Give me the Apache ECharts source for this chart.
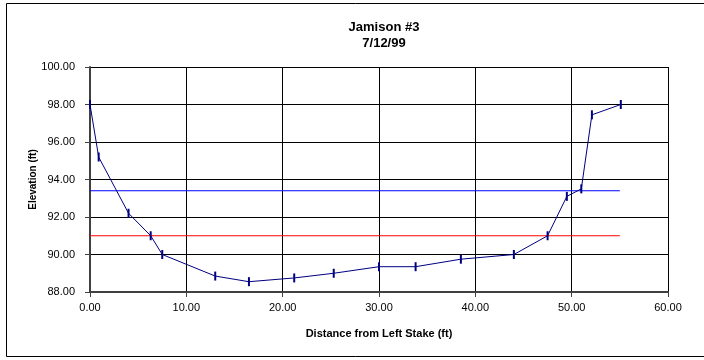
<!DOCTYPE html>
<html lang="en">
<head>
    <meta charset="UTF-8">
    <title>Jamison #3</title>
    <style>
        body { margin: 0; background: #fff; }
    </style>
</head>
<body>
    <div id="main" style="width:704px;height:360px;"></div>
</body>
<script src="https://cdn.jsdelivr.net/npm/echarts@6/dist/echarts.min.js"></script>
<script>
    var main = echarts.init(document.getElementById('main'));

    // cross section survey points
    var distance = [0, 0.9, 4.0, 6.3, 7.5, 13.0, 16.5, 21.2, 25.3, 30.0, 33.8, 38.5, 44.0, 47.5, 49.5, 51.0, 52.1, 55.1];
    var elevation = [98.0, 95.2, 92.2, 91.0, 90.0, 88.85, 88.55, 88.75, 89.0, 89.35, 89.35, 89.75, 90.0, 91.0, 93.1, 93.5, 97.45, 98.0];

    // horizontal reference levels
    var levelX = [0, 55];
    var upperLevel = [93.4, 93.4];
    var lowerLevel = [91.0, 91.0];

    function pairs(xs, ys) {
        return xs.map(function (x, i) { return [x, ys[i]]; });
    }

    var font = 'Liberation Sans, Arial, sans-serif';

    var option = {
        backgroundColor: '#fff',
        animation: false,
        title: {
            text: 'Jamison #3\n7/12/99',
            left: 379,
            top: 14,
            textAlign: 'center',
            textStyle: {
                fontFamily: font,
                fontSize: 13,
                fontWeight: 'bold',
                color: '#000',
                lineHeight: 16
            }
        },
        graphic: [{
            type: 'rect',
            shape: { x: 6.5, y: 3.5, width: 710, height: 353 },
            style: { fill: 'none', stroke: '#000', lineWidth: 1 },
            silent: true
        }],
        grid: {
            left: 90,
            right: 36,
            top: 67,
            bottom: 68
        },
        xAxis: {
            type: 'value',
            min: 0,
            max: 60,
            interval: 10,
            name: 'Distance from Left Stake (ft)',
            nameLocation: 'middle',
            nameGap: 36,
            nameTextStyle: { fontFamily: font, fontSize: 11, fontWeight: 'bold', color: '#000' },
            axisLine: { onZero: false, lineStyle: { color: '#404040', width: 2 } },
            axisTick: { length: 5, lineStyle: { color: '#404040' } },
            axisLabel: {
                margin: 10,
                fontFamily: font,
                fontSize: 11,
                color: '#000',
                formatter: function (v) { return v.toFixed(2); }
            },
            splitLine: { show: true, lineStyle: { color: '#000', width: 1 } }
        },
        yAxis: {
            type: 'value',
            min: 88,
            max: 100,
            interval: 2,
            name: 'Elevation (ft)',
            nameLocation: 'middle',
            nameGap: 52,
            nameMoveOverlap: false,
            nameTextStyle: { fontFamily: font, fontSize: 10, fontWeight: 'bold', color: '#000' },
            axisLine: { show: true, onZero: false, lineStyle: { color: '#404040', width: 2 } },
            axisTick: { show: true, length: 5, lineStyle: { color: '#404040' } },
            axisLabel: {
                margin: 15,
                fontFamily: font,
                fontSize: 11,
                color: '#000',
                formatter: function (v) { return v.toFixed(2); }
            },
            splitLine: { show: true, lineStyle: { color: '#000', width: 1 } }
        },
        series: [{
            name: 'Upper level',
            type: 'line',
            data: pairs(levelX, upperLevel),
            symbol: 'none',
            lineStyle: { color: '#0000ff', width: 1.2 },
            z: 3
        }, {
            name: 'Lower level',
            type: 'line',
            data: pairs(levelX, lowerLevel),
            symbol: 'none',
            lineStyle: { color: '#ff0000', width: 1.2 },
            z: 3
        }, {
            name: 'Profile',
            type: 'line',
            data: pairs(distance, elevation),
            symbol: 'rect',
            symbolSize: [2, 9],
            itemStyle: { color: '#000080' },
            lineStyle: { color: '#000080', width: 1 },
            z: 4
        }]
    };
    main.setOption(option);
</script>
</html>
